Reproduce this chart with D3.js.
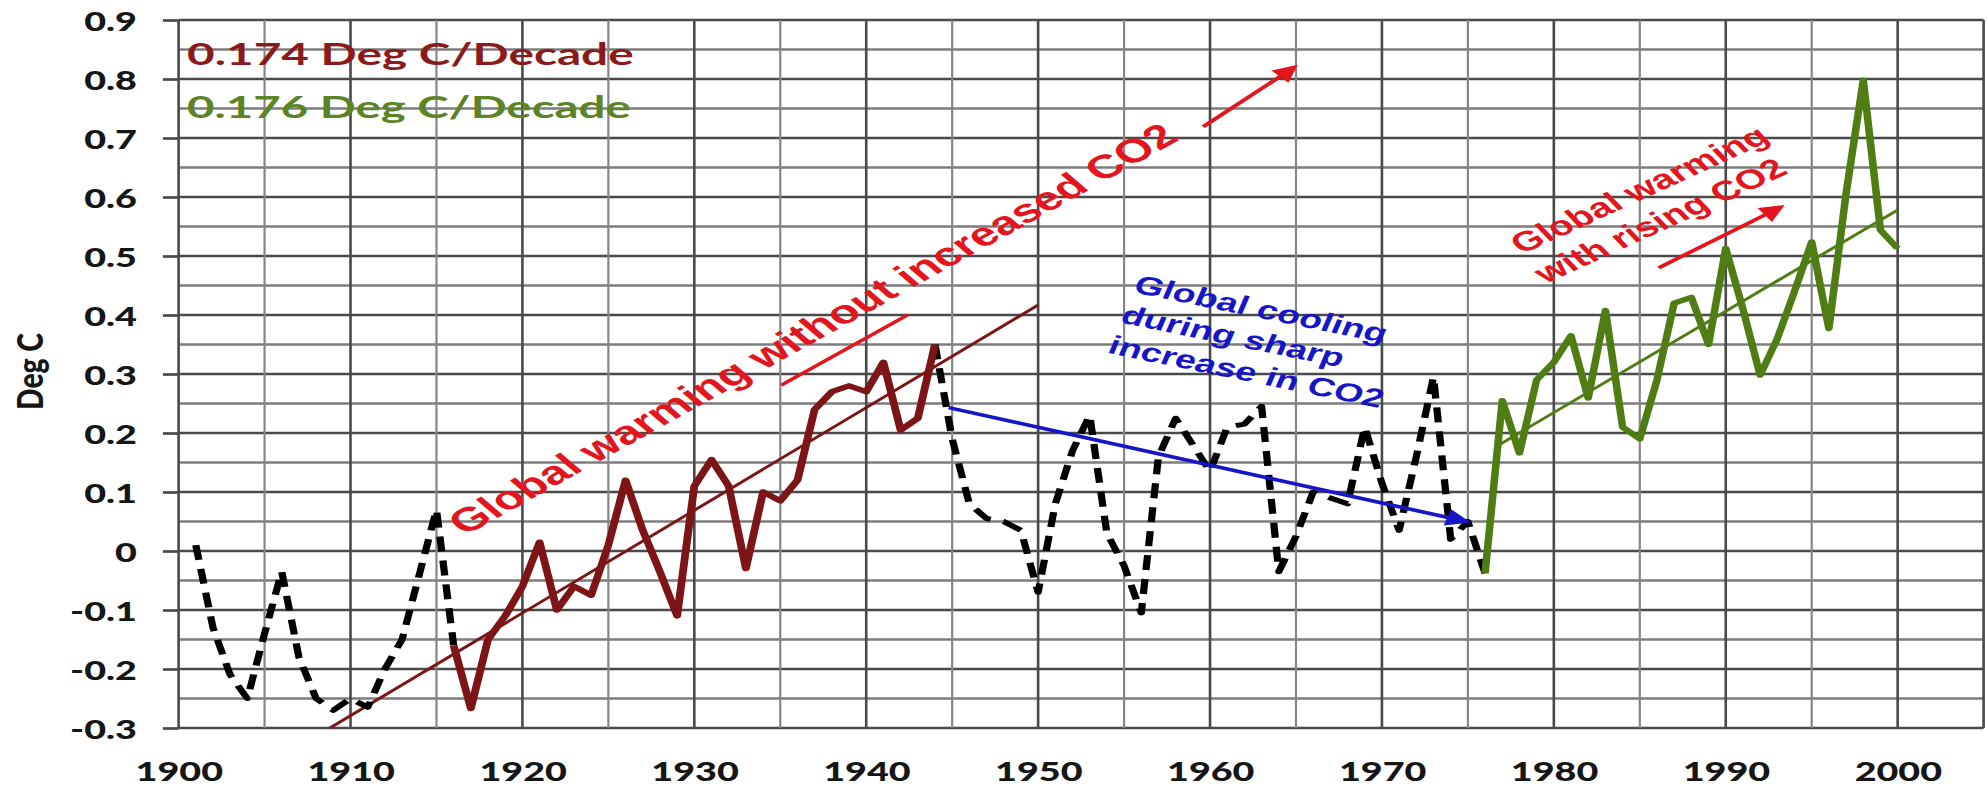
<!DOCTYPE html>
<html><head><meta charset="utf-8">
<script src="https://cdn.jsdelivr.net/npm/d3@7"></script>
<style>html,body{margin:0;padding:0;background:#fff;} svg{display:block;}</style>
</head><body>
<svg id="chart" width="1988" height="789"></svg>
<script>
// ---------------- data ----------------
const earlyYears  = [1901,1902,1903,1904,1905,1906,1907,1908,1909,1910,1911,1912,1913,1914,1915,1916];
const earlyValues = [0.01,-0.13,-0.21,-0.25,-0.14,-0.035,-0.18,-0.25,-0.27,-0.25,-0.265,-0.20,-0.15,-0.04,0.07,-0.16];

const redYears  = [1916,1917,1918,1919,1920,1921,1922,1923,1924,1925,1926,1927,1928,1929,1930,1931,1932,1933,1934,1935,1936,1937,1938,1939,1940,1941,1942,1943,1944];
const redValues = [-0.16,-0.267,-0.15,-0.11,-0.06,0.015,-0.10,-0.06,-0.075,0.01,0.12,0.035,-0.035,-0.11,0.11,0.155,0.11,-0.03,0.10,0.085,0.12,0.24,0.27,0.28,0.27,0.32,0.205,0.225,0.35];

const midYears  = [1944,1945,1946,1947,1948,1949,1950,1951,1952,1953,1954,1955,1956,1957,1958,1959,1960,1961,1962,1963,1964,1965,1966,1967,1968,1969,1970,1971,1972,1973,1974,1975,1976];
const midValues = [0.35,0.19,0.08,0.055,0.05,0.035,-0.07,0.08,0.17,0.23,0.03,-0.025,-0.105,0.16,0.225,0.18,0.135,0.21,0.215,0.245,-0.035,0.025,0.10,0.09,0.08,0.21,0.115,0.035,0.16,0.295,0.02,0.05,-0.038];

const greenYears  = [1976,1977,1978,1979,1980,1981,1982,1983,1984,1985,1986,1987,1988,1989,1990,1991,1992,1993,1994,1995,1996,1997,1998,1999,2000];
const greenValues = [-0.038,0.255,0.166,0.29,0.32,0.365,0.259,0.408,0.21,0.19,0.29,0.42,0.43,0.35,0.513,0.41,0.298,0.36,0.44,0.524,0.377,0.606,0.798,0.544,0.513];

const redTrendYears    = [1908.8, 1950];
const redTrendValues   = [-0.3, 0.417];
const greenTrendYears  = [1976.7, 2000];
const greenTrendValues = [0.178, 0.578];

const coolingArrowYears  = [1944.8, 1974.9];
const coolingArrowValues = [0.243, 0.05];
const co2ArrowAYears  = [1959.6, 1964.9];
const co2ArrowAValues = [0.719, 0.82];
const co2ArrowBYears  = [1986.1, 1993.2];
const co2ArrowBValues = [0.48, 0.583];
const underlineYears  = [1935.05, 1942.4];
const underlineValues = [0.281, 0.40];

const yTickValues = [-0.3,-0.2,-0.1,0,0.1,0.2,0.3,0.4,0.5,0.6,0.7,0.8,0.9];
const xTickValues = [1900,1910,1920,1930,1940,1950,1960,1970,1980,1990,2000];

const slopeLabels = ["0.174 Deg C/Decade", "0.176 Deg C/Decade"];
const warmText    = "Global warming without increased CO2";
const coolLines   = ["Global cooling", "during sharp", "increase in CO2"];
const risingLines = ["Global warming", "with rising CO2"];
const yTitle      = "Deg C";

// ---------------- layout ----------------
const K = 1.45;               // the original picture is stretched horizontally
const svg = d3.select("#chart");
const root = svg.append("g").attr("transform", `scale(${K},1)`);

const x = d3.scaleLinear().domain([1900, 2005]).range([178.6 / K, 1983.6 / K]);
const y = d3.scaleLinear().domain([-0.3, 0.9]).range([728, 20]);

const defs = svg.append("defs");
function marker(id, color) {
  defs.append("marker").attr("id", id)
    .attr("viewBox", "0 0 10 10").attr("refX", 8).attr("refY", 5)
    .attr("markerUnits", "userSpaceOnUse")
    .attr("markerWidth", 20).attr("markerHeight", 17)
    .attr("orient", "auto")
    .append("path").attr("d", "M0,0 L10,5 L0,10 z").attr("fill", color);
}
marker("arrRed", "#e3151d");
marker("arrBlue", "#1616c8");

// ---------------- grid ----------------
const grid = root.append("g");
const hVals = y.ticks(24);
const vVals = d3.range(1900, 2006, 5);
const isMajorH = v => Math.abs(Math.round(v * 100)) % 10 === 0;
const isMajorV = v => v % 10 === 0 || v === 2005;

grid.selectAll("line.h").data(hVals).join("line")
  .attr("x1", x(1900)).attr("x2", x(2005))
  .attr("y1", d => y(d)).attr("y2", d => y(d))
  .attr("stroke", d => isMajorH(d) ? "#4a4a4a" : "#7c7c7c")
  .attr("stroke-width", d => isMajorH(d) ? 2.7 : 2.3);

grid.selectAll("line.v").data(vVals).join("line")
  .attr("x1", d => x(d)).attr("x2", d => x(d))
  .attr("y1", y(0.9)).attr("y2", y(-0.3))
  .attr("stroke", d => isMajorV(d) ? "#4a4a4a" : "#858585")
  .attr("stroke-width", d => isMajorV(d) ? 1.8 : 1.5);

// ---------------- axes ----------------
const fmt = d => d === 0 ? "0" : d.toFixed(1);
const yAxis = root.append("g").attr("transform", `translate(${x(1900)},0)`)
  .call(d3.axisLeft(y).tickValues(yTickValues).tickFormat(fmt).tickSize(10.8).tickPadding(18));
yAxis.select(".domain").remove();
yAxis.selectAll(".tick line").attr("stroke", "#4a4a4a").attr("stroke-width", 2.7);
yAxis.selectAll("text").attr("font-family", "Lato, 'Open Sans', sans-serif")
  .attr("font-weight", 900).attr("font-size", 26).attr("fill", "#161616").attr("dy", "0.42em");

const xAxis = root.append("g").attr("transform", `translate(0,${y(-0.3)})`)
  .call(d3.axisBottom(x).tickValues(xTickValues).tickFormat(d3.format("d")).tickSize(0));
xAxis.select(".domain").remove();
xAxis.selectAll("text").attr("font-family", "Lato, 'Open Sans', sans-serif")
  .attr("font-weight", 900).attr("font-size", 26).attr("fill", "#161616")
  .attr("y", 781 - y(-0.3)).attr("dy", 0);

root.append("text")
  .attr("transform", `translate(${29.7},371.5) rotate(-90)`)
  .attr("text-anchor", "middle")
  .attr("font-family", "Lato, 'Open Sans', sans-serif").attr("font-weight", 900)
  .attr("font-size", 25).attr("fill", "#161616")
  .attr("textLength", 77).attr("lengthAdjust", "spacingAndGlyphs")
  .text(yTitle);

// ---------------- series ----------------
const line = d3.line().x(d => x(d[0])).y(d => y(d[1]));
const series = root.append("g").attr("fill", "none");

series.append("path").datum(d3.zip(redTrendYears, redTrendValues))
  .attr("d", line).attr("stroke", "#7d1416").attr("stroke-width", 2.6);
series.append("path").datum(d3.zip(greenTrendYears, greenTrendValues))
  .attr("d", line).attr("stroke", "#4f7d14").attr("stroke-width", 2.6);

series.append("path").datum(d3.zip(earlyYears, earlyValues))
  .attr("d", line).attr("stroke", "#000").attr("stroke-width", 5)
  .attr("stroke-dasharray", "15 9").attr("stroke-linejoin", "round");
series.append("path").datum(d3.zip(midYears, midValues))
  .attr("d", line).attr("stroke", "#000").attr("stroke-width", 5)
  .attr("stroke-dasharray", "15 9").attr("stroke-linejoin", "round");

series.append("path").datum(d3.zip(redYears, redValues))
  .attr("d", line).attr("stroke", "#7d1416").attr("stroke-width", 5.4)
  .attr("stroke-linejoin", "round");
series.append("path").datum(d3.zip(greenYears, greenValues))
  .attr("d", line).attr("stroke", "#4f7d14").attr("stroke-width", 5.2)
  .attr("stroke-linejoin", "round");

// ---------------- annotations ----------------
series.append("path").datum(d3.zip(coolingArrowYears, coolingArrowValues))
  .attr("d", line).attr("stroke", "#1616c8").attr("stroke-width", 3.6)
  .attr("marker-end", "url(#arrBlue)");
series.append("path").datum(d3.zip(co2ArrowAYears, co2ArrowAValues))
  .attr("d", line).attr("stroke", "#e3151d").attr("stroke-width", 3.4)
  .attr("marker-end", "url(#arrRed)");
series.append("path").datum(d3.zip(co2ArrowBYears, co2ArrowBValues))
  .attr("d", line).attr("stroke", "#e3151d").attr("stroke-width", 3.4)
  .attr("marker-end", "url(#arrRed)");
series.append("path").datum(d3.zip(underlineYears, underlineValues))
  .attr("d", line).attr("stroke", "#e3151d").attr("stroke-width", 3);

const ann = root.append("g").attr("font-weight", 700);
ann.append("text").attr("x", 129).attr("y", 65)
  .attr("font-family", "Lato, 'Open Sans', sans-serif").attr("font-size", 30)
  .attr("fill", "#8b1a1a").attr("textLength", 308).attr("lengthAdjust", "spacingAndGlyphs")
  .text(slopeLabels[0]);
ann.append("text").attr("x", 129).attr("y", 118)
  .attr("font-family", "Lato, 'Open Sans', sans-serif").attr("font-size", 30)
  .attr("fill", "#5c8424").attr("textLength", 306).attr("lengthAdjust", "spacingAndGlyphs")
  .text(slopeLabels[1]);

ann.append("text")
  .attr("transform", "translate(320.7,536) rotate(-38.8)")
  .attr("font-family", "'Liberation Sans', Arial, sans-serif").attr("font-size", 33)
  .attr("fill", "#e3151d").attr("textLength", 633).attr("lengthAdjust", "spacingAndGlyphs")
  .text(warmText);

const cool = ann.append("g").attr("transform", "translate(780.7,292) rotate(16.4)")
  .attr("font-family", "'Liberation Sans', Arial, sans-serif").attr("font-size", 26)
  .attr("fill", "#1616c8");
cool.selectAll("text").data(coolLines).join("text")
  .attr("x", 0).attr("y", (d, i) => i * 31.6).text(d => d);

const rising = ann.append("g").attr("transform", "translate(1135.7,197.5) rotate(-33.5)")
  .attr("font-family", "'Liberation Sans', Arial, sans-serif").attr("font-size", 27.5)
  .attr("fill", "#e3151d").attr("text-anchor", "middle");
rising.selectAll("text").data(risingLines).join("text")
  .attr("x", (d, i) => i * -5).attr("y", (d, i) => i * 33.7).text(d => d);
</script>
</body></html>
